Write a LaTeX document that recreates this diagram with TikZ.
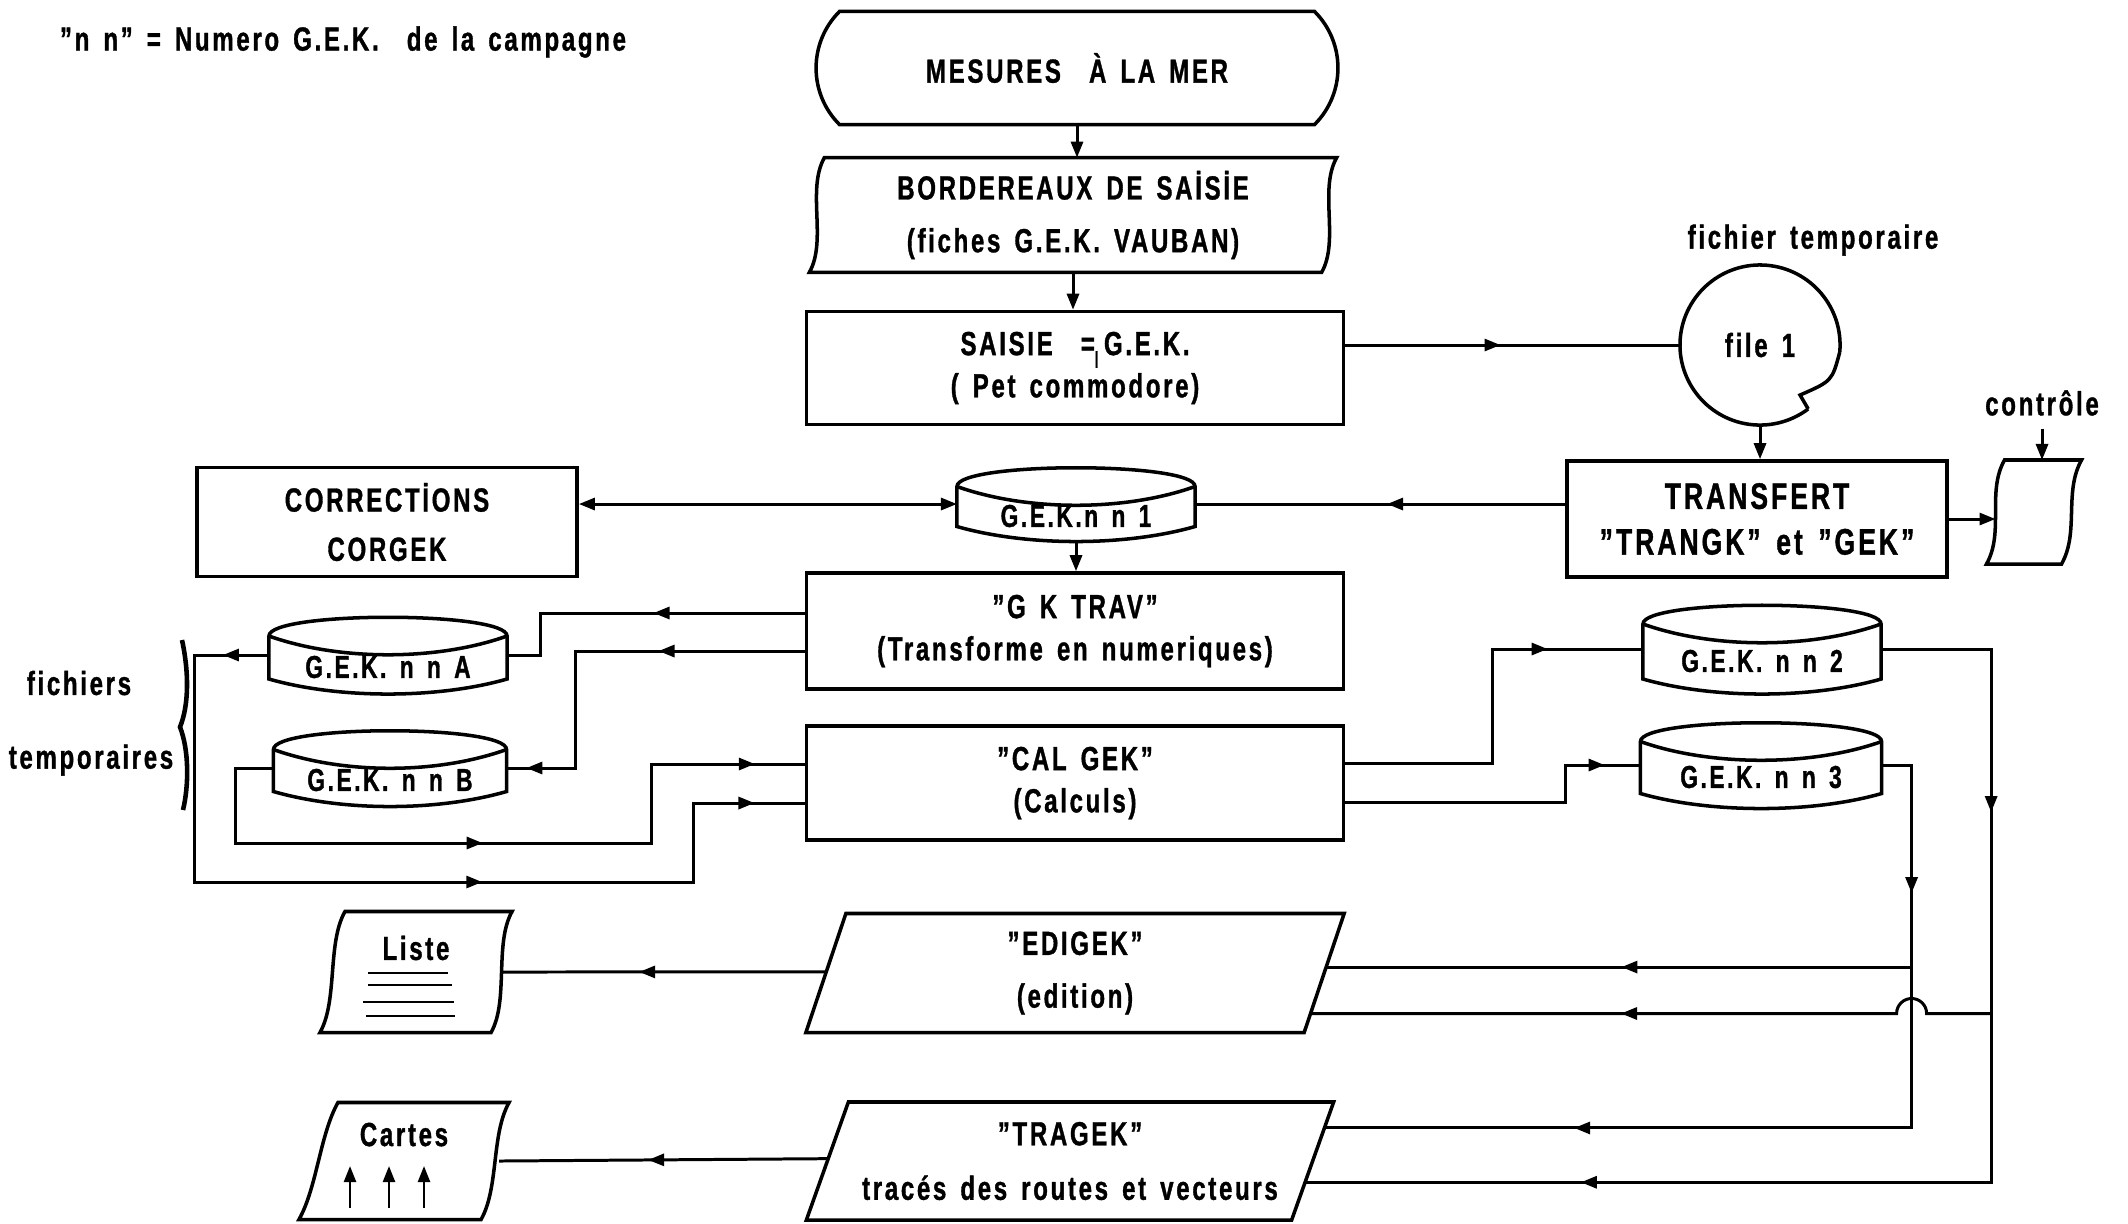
\documentclass[tikz,border=0pt]{standalone}
\usepackage{fontspec}
\setmainfont{Liberation Sans}[FakeStretch=0.72, LetterSpace=8, WordSpace=1.5, FakeBold=1]
\usepackage{tikz}
\usetikzlibrary{calc, positioning, arrows.meta, shapes.misc, decorations.markings}

\tikzset{
  >={Triangle[length=1.6mm,width=1.2mm]},
  procbox/.style={draw, line width=1pt, rectangle, align=center},
  shapebox/.style={rectangle, align=center},
  disk/.style={rectangle, minimum width=2.35cm},
  dlabel/.style={yshift=-0.12cm, font=\fontsize{9}{11}\selectfont\bfseries},
  arrowat/.style={postaction={decorate, decoration={markings, mark=at position #1 with {\arrow{>}}}}},
}

\newcommand{\wavybox}[3]{%
  \draw[line width=1pt] ([xshift=#2]#1.north west) -- (#1.north east)
    .. controls +(-18,32) and +(18,-32) .. ([xshift=-#3]#1.south east)
    -- (#1.south west)
    .. controls +(18,-32) and +(-18,32) .. ([xshift=#2]#1.north west) -- cycle;}
\newcommand{\slantbox}[2]{%
  \draw[line width=1pt] ([xshift=#2]#1.north west) -- (#1.north east)
    -- ([xshift=-#2]#1.south east) -- (#1.south west) -- cycle;}
\newcommand{\gekdisk}[1]{%
  \draw[line width=1pt] ([yshift=-0.2cm]#1.north west)
    .. controls ([yshift=0.05cm]#1.north west) and ([yshift=0.05cm]#1.north east) .. ([yshift=-0.2cm]#1.north east)
    -- ([yshift=0.15cm]#1.south east)
    .. controls ([xshift=-0.7cm,yshift=-0.05cm]#1.south east) and ([xshift=0.7cm,yshift=-0.05cm]#1.south west) .. ([yshift=0.15cm]#1.south west)
    -- cycle;
  \draw[line width=1pt] ([yshift=-0.2cm]#1.north west)
    .. controls ([xshift=0.7cm,yshift=-0.45cm]#1.north west) and ([xshift=-0.7cm,yshift=-0.45cm]#1.north east) .. ([yshift=-0.2cm]#1.north east);}

\begin{document}
\begin{tikzpicture}[x=0.01cm, y=-0.01cm, line width=0.85pt,
    every node/.style={font=\fontsize{9.5}{12}\selectfont\bfseries}]
\useasboundingbox (0,0) rectangle (2128,1223);

\node (legend) at (343,42) {"n n" = Numero G.E.K.~~de la campagne};

% main column
\node[draw, line width=1pt, rounded rectangle, rounded rectangle arc length=90,
  minimum width=5.45cm, minimum height=1.13cm] (mesures) at (1077,68) {MESURES~~À LA MER};
\node[shapebox, minimum width=5.24cm, minimum height=1.11cm] (bord) at (1073,215)
  {BORDEREAUX DE SAİSİE\\[3pt](fiches G.E.K. VAUBAN)};
\wavybox{bord}{0.15cm}{0.15cm}
\node[procbox, minimum width=5.37cm, minimum height=1.13cm] (saisie) at (1075,368)
  {SAISIE~~=\raisebox{-2.5pt}{\fontsize{5}{5}\selectfont |}\,G.E.K.\\( Pet commodore)};

\node[circle, minimum size=1.6cm, inner sep=0pt, outer sep=0pt] (file1) at (1760,345) {file 1};
\draw[line width=1pt] (file1.-5) arc[start angle=-5, end angle=307, radius=0.8cm];
\draw[line width=1pt] (file1.-5) .. controls ([xshift=0.72cm,yshift=-0.36cm]file1.center)
  .. ([xshift=0.4cm,yshift=-0.5cm]file1.center) -- (file1.-53);
\node (ftemp) at (1813,240) {fichier temporaire};

\node[procbox, minimum width=3.8cm, minimum height=1.16cm, font=\fontsize{10.5}{13}\selectfont\bfseries]
  (transfert) at (1757,519) {TRANSFERT\\"TRANGK" et "GEK"};
\node (ctrltxt) at (2042,403) {contrôle};
\node[shapebox, minimum width=0.92cm, minimum height=1.01cm] (controle) at (2034,512) {};
\wavybox{controle}{0.18cm}{0.2cm}

\node[disk, minimum height=0.72cm, label={[dlabel]center:G.E.K.n n 1}] (nn1) at (1076,504) {};
\gekdisk{nn1}
\node[procbox, minimum width=3.8cm, minimum height=1.09cm] (corrections) at (387,522)
  {CORRECTİONS\\[2pt]CORGEK};

\node[procbox, minimum width=5.37cm, minimum height=1.16cm] (gktrav) at (1075,631)
  {"G K TRAV"\\(Transforme en numeriques)};
\node[procbox, minimum width=5.37cm, minimum height=1.14cm] (calgek) at (1075,783)
  {"CAL GEK"\\(Calculs)};

\node[disk, minimum height=0.75cm, label={[dlabel]center:G.E.K. n n A}] (nnA) at (388,655) {};
\gekdisk{nnA}
\node[disk, minimum width=2.3cm, minimum height=0.74cm, label={[dlabel]center:G.E.K. n n B}] (nnB) at (390,768) {};
\gekdisk{nnB}
\node[disk, minimum height=0.87cm, label={[dlabel]center:G.E.K. n n 2}] (nn2) at (1762,649) {};
\gekdisk{nn2}
\node[disk, minimum width=2.38cm, minimum height=0.84cm, label={[dlabel]center:G.E.K. n n 3}] (nn3) at (1761,765) {};
\gekdisk{nn3}

\node (fich) at (79,683) {fichiers};
\node (temp) at (91,760) {temporaires};
\draw[line width=1.3pt] (182,640) .. controls (189,672) and (189,705) .. (180,727)
  .. controls (189,750) and (189,785) .. (183,810);

\node[shapebox, minimum width=5.35cm, minimum height=1.16cm] (edigek) at (1075,973)
  {"EDIGEK"\\[3pt](edition)};
\slantbox{edigek}{0.4cm}
\node[shapebox, minimum width=5.24cm, minimum height=1.15cm] (tragek) at (1070,1161)
  {"TRAGEK"\\[3.5pt]tracés des routes et vecteurs};
\slantbox{tragek}{0.42cm}

\node[shapebox, minimum width=1.89cm, minimum height=1.18cm,
  label={[anchor=north, yshift=-0.11cm]north:Liste}] (liste) at (416,972) {};
\wavybox{liste}{0.25cm}{0.21cm}
\foreach \y/\a/\b in {973/368/448, 985/368/452, 1002/363/454, 1016/366/455}
  \draw[line width=0.5pt] (\a,\y) -- (\b,\y);
\node[shapebox, minimum width=2.07cm, minimum height=1.14cm,
  label={[anchor=north, yshift=-0.07cm]north:Cartes}] (cartes) at (404,1161) {};
\wavybox{cartes}{0.39cm}{0.28cm}
\foreach \x in {350,389,424}
  \draw[->, line width=0.7pt] (\x,1208) -- (\x,1166);

% connections
\draw[->] (mesures.south) -- (mesures.south |- bord.north);
\draw[->] (bord.south) -- (bord.south |- saisie.north);
\draw[arrowat=1.55cm] (saisie.east |- file1.west) -- (file1.west);
\draw[->] (file1.south) -- (file1.south |- transfert.north);
\draw[->, shorten >=-0.09cm] (transfert.east) -- (transfert.east -| controle.west);
\draw[->] (ctrltxt.south) -- (ctrltxt.south |- controle.north);
\draw[arrowat=1.78cm] (transfert.west |- nn1.east) -- (nn1.east);
\draw[<->] (nn1.west) -- (nn1.west -| corrections.east);
\draw[->] (nn1.south) -- (nn1.south |- gktrav.north);

\draw[arrowat=1.51cm] ([yshift=0.18cm]gktrav.west) -- ++(-264,0) |- (nnA.east);
\draw[arrowat=1.46cm, arrowat=3.95cm] ([yshift=-0.2cm]gktrav.west) -- ++(-229,0) |- (nnB.east);
\draw[arrowat=0.46cm, arrowat=5.88cm, arrowat=9.39cm] (nnA.west) -- ++(-74,0) -- ++(0,227)
  -- ++(499,0) |- ([yshift=-0.2cm]calgek.west);
\draw[arrowat=3.6cm, arrowat=7.11cm] (nnB.west) -- ++(-38,0) -- ++(0,75)
  -- ++(416,0) |- ([yshift=0.19cm]calgek.west);
\draw[arrowat=3.16cm] ([yshift=0.2cm]calgek.east) -- ++(147,0) |- (nn2.west);
\draw[arrowat=2.96cm] ([yshift=-0.19cm]calgek.east) -- ++(220,0) |- (nn3.west);

\coordinate (edi-l) at ($([xshift=0.4cm]edigek.north west)!0.49!(edigek.south west)$);
\coordinate (edi-r1) at ($(edigek.north east)!0.45!([xshift=-0.4cm]edigek.south east)$);
\coordinate (edi-r2) at ($(edigek.north east)!0.84!([xshift=-0.4cm]edigek.south east)$);
\coordinate (tra-l) at ($([xshift=0.42cm]tragek.north west)!0.48!(tragek.south west)$);
\coordinate (tra-r1) at ($(tragek.north east)!0.22!([xshift=-0.42cm]tragek.south east)$);
\coordinate (tra-r2) at ($(tragek.north east)!0.68!([xshift=-0.42cm]tragek.south east)$);
\coordinate (bus2) at ([xshift=1.1cm]nn2.east);
\coordinate (bus3) at ([xshift=0.3cm]nn3.east);
\coordinate (hop) at (bus3 |- edi-r2);

\draw[arrowat=2.73cm, arrowat=10.53cm] (nn2.east) -- (bus2) |- (tra-r2);
\draw[arrowat=1.58cm, arrowat=7.3cm] (nn3.east) -- (bus3) |- (tra-r1);
\draw[arrowat=2.9cm] (bus3 |- edi-r1) -- (edi-r1);
\draw[arrowat=3.87cm] (bus2 |- edi-r2) -- ([xshift=0.15cm]hop)
  arc[start angle=0, end angle=180, radius=0.15cm] -- (edi-r2);
\draw[arrowat=1.87cm] (edi-l) -- ([xshift=-0.1cm]liste.east);
\draw[arrowat=1.8cm] (tra-l) -- ([xshift=-0.1cm]cartes.east);
\end{tikzpicture}
\end{document}
